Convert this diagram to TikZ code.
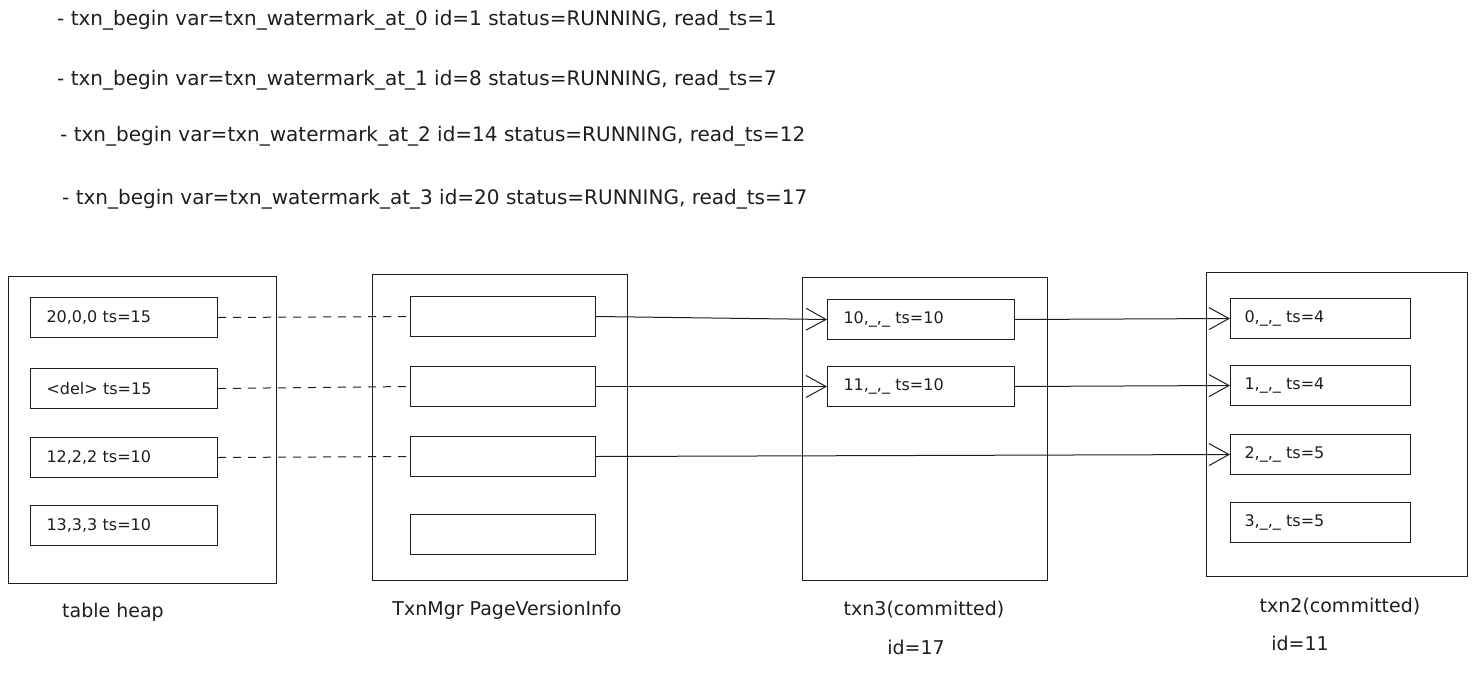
\documentclass[tikz,border=0pt]{standalone}
\usepackage{fontspec}
\setmainfont{DejaVu Sans}
\usetikzlibrary{arrows.meta}
\definecolor{ink}{HTML}{1E1E1E}
\tikzset{
  outerbox/.style={draw=ink, line width=1pt, anchor=north west, inner sep=0pt},
  rowbox/.style={draw=ink, line width=1pt, anchor=north west, minimum height=40pt, text width=155pt, inner xsep=16pt, inner ysep=0pt, align=left, font=\fontsize{16}{19}\selectfont, text=ink},
  emptyrow/.style={draw=ink, line width=1pt, anchor=north west, minimum height=40pt, minimum width=185pt, inner sep=0pt},
  headtxt/.style={anchor=west, inner sep=0pt, font=\fontsize{20}{24}\selectfont, text=ink},
  captxt/.style={anchor=center, inner sep=0pt, font=\fontsize{19}{23}\selectfont, text=ink},
  dashlink/.style={draw=ink, line width=1pt, dash pattern=on 8pt off 7pt},
  arrowlink/.style={draw=ink, line width=1pt, -{Straight Barb[length=20pt,width=22pt,line width=1pt]}},
}
\begin{document}
\begin{tikzpicture}[x=1pt,y=-1pt]
\useasboundingbox (0,0) rectangle (1480,672);
% header lines
\node[headtxt] (l0) at (57,20) {- txn\_begin var=txn\_watermark\_at\_0 id=1 status=RUNNING, read\_ts=1};
\node[headtxt] (l1) at (57,80) {- txn\_begin var=txn\_watermark\_at\_1 id=8 status=RUNNING, read\_ts=7};
\node[headtxt] (l2) at (60,136) {- txn\_begin var=txn\_watermark\_at\_2 id=14 status=RUNNING, read\_ts=12};
\node[headtxt] (l3) at (62,199) {- txn\_begin var=txn\_watermark\_at\_3 id=20 status=RUNNING, read\_ts=17};
% outer boxes
\node[outerbox, minimum width=268pt, minimum height=307pt] (heap) at (8,276) {};
\node[outerbox, minimum width=255pt, minimum height=306pt] (pv) at (372,274) {};
\node[outerbox, minimum width=245pt, minimum height=303pt] (t3) at (802,277) {};
\node[outerbox, minimum width=261pt, minimum height=304pt] (t2) at (1206,272) {};
% table heap rows
\node[rowbox] (h1) at (30,297) {20,0,0 ts=15};
\node[rowbox] (h2) at (30,368) {<del> ts=15};
\node[rowbox] (h3) at (30,437) {12,2,2 ts=10};
\node[rowbox] (h4) at (30,505) {13,3,3 ts=10};
% page version info rows
\node[emptyrow] (p1) at (410,296) {};
\node[emptyrow] (p2) at (410,366) {};
\node[emptyrow] (p3) at (410,436) {};
\node[emptyrow] (p4) at (410,514) {};
% txn3 rows
\node[rowbox] (a1) at (827,299) {10,\_,\_ ts=10};
\node[rowbox] (a2) at (827,366) {11,\_,\_ ts=10};
% txn2 rows
\node[rowbox, text width=152pt, inner xsep=14pt] (b1) at (1230,298) {0,\_,\_ ts=4};
\node[rowbox, text width=152pt, inner xsep=14pt] (b2) at (1230,365) {1,\_,\_ ts=4};
\node[rowbox, text width=152pt, inner xsep=14pt] (b3) at (1230,434) {2,\_,\_ ts=5};
\node[rowbox, text width=152pt, inner xsep=14pt] (b4) at (1230,502) {3,\_,\_ ts=5};
% captions
\node[captxt] (c1) at (113,612) {table heap};
\node[captxt] (c2) at (507,610) {TxnMgr PageVersionInfo};
\node[captxt] (c3) at (924,610) {txn3(committed)};
\node[captxt] (c3id) at (916,647) {id=17};
\node[captxt] (c4) at (1340,607) {txn2(committed)};
\node[captxt] (c4id) at (1300,643) {id=11};
% dashed links
\draw[dashlink] (h1.east) -- (p1.west);
\draw[dashlink] (h2.east) -- (p2.west);
\draw[dashlink] (h3.east) -- (p3.west);
% arrows
\draw[arrowlink] (p1.east) -- (a1.west);
\draw[arrowlink] (p2.east) -- (a2.west);
\draw[arrowlink] (p3.east) -- (b3.west);
\draw[arrowlink] (a1.east) -- (b1.west);
\draw[arrowlink] (a2.east) -- (b2.west);
\end{tikzpicture}
\end{document}
